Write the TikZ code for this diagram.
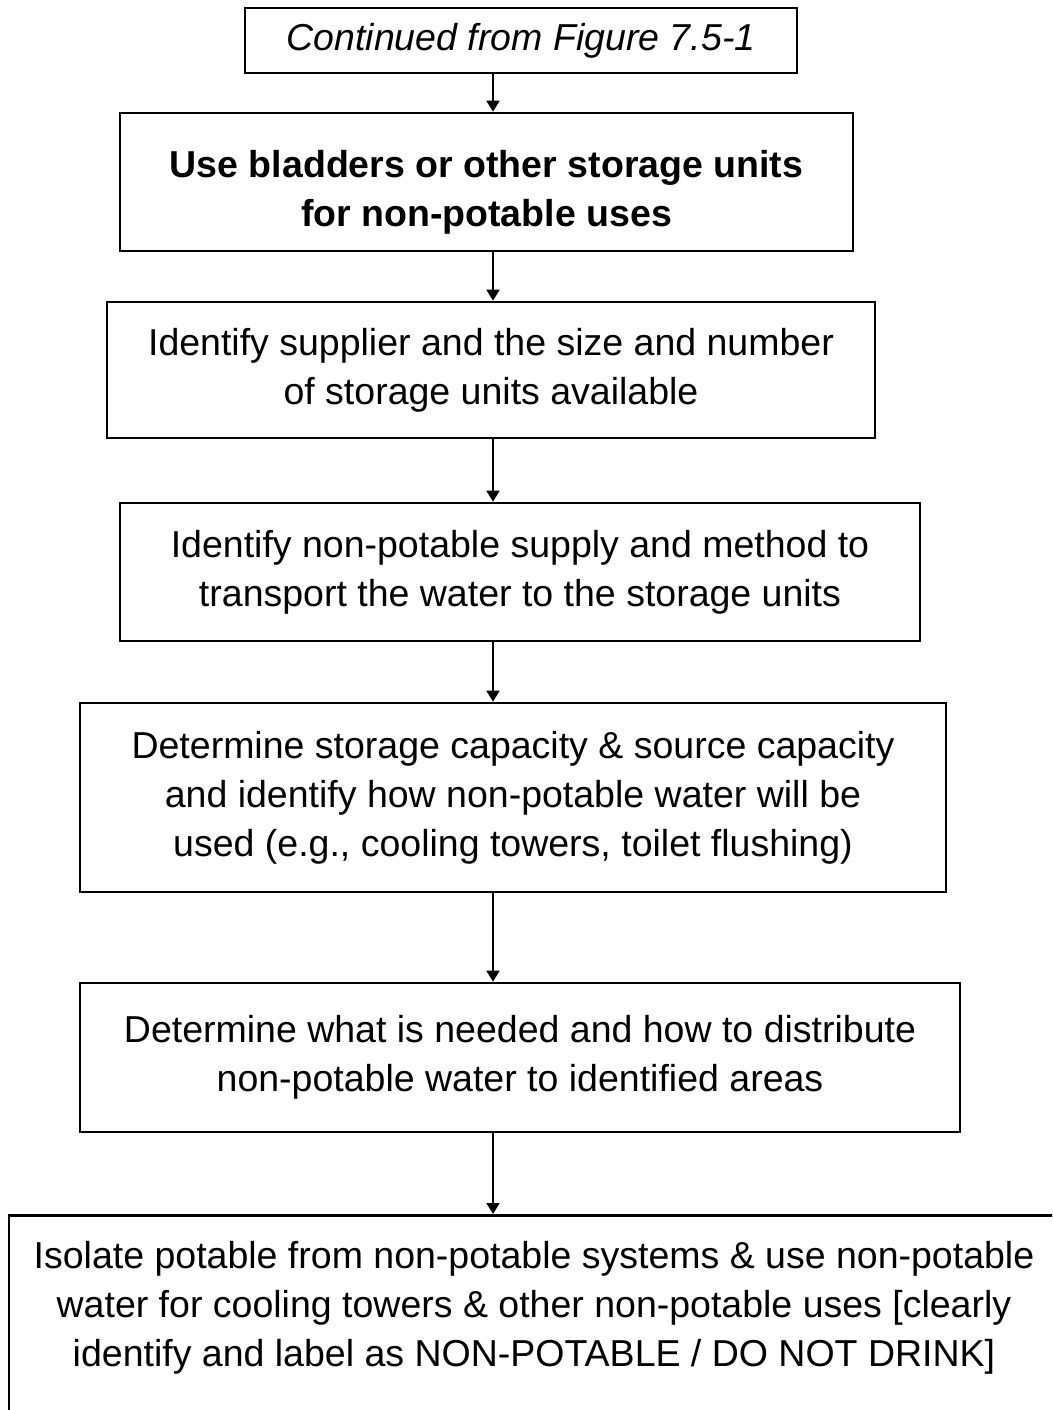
\documentclass[tikz,border=0pt]{standalone}
\usepackage{fontspec}
\setmainfont{Liberation Sans}
\usetikzlibrary{arrows.meta}
\tikzset{
	stepbox/.style={draw,rectangle,line width=2.6pt,align=center,inner sep=0pt,font=\fontsize{37.5}{49}\selectfont},
	flowarr/.style={line width=1.8pt,-{Triangle[width=13pt,length=11pt]}}
}
\begin{document}
\begin{tikzpicture}[x=1pt,y=-1pt]
	\useasboundingbox (0,0) rectangle (1052,1410);
	\clip (0,0) rectangle (1052,1410);
	\coordinate (spine) at (493,0);
	\node[stepbox,minimum width=552pt,minimum height=65pt] (b1) at (521,40.5) {\itshape Continued from Figure 7.5-1};
	\node[stepbox,minimum width=733pt,minimum height=138pt,text height=96pt] (b2) at (486.5,182) {\bfseries Use bladders or other storage units\\ \bfseries for non-potable uses};
	\node[stepbox,minimum width=768pt,minimum height=136pt] (b3) at (491,370) {Identify supplier and the size and number\\ of storage units available};
	\node[stepbox,minimum width=800pt,minimum height=138pt] (b4) at (520,572) {Identify non-potable supply and method to\\ transport the water to the storage units};
	\node[stepbox,minimum width=866pt,minimum height=189pt] (b5) at (513,797.5) {Determine storage capacity \& source capacity\\ and identify how non-potable water will be\\ used (e.g., cooling towers, toilet flushing)};
	\node[stepbox,minimum width=880pt,minimum height=149pt] (b6) at (520,1057.5) {Determine what is needed and how to distribute\\ non-potable water to identified areas};
	\node[stepbox,minimum width=1050pt,inner ysep=26pt,text depth=150pt,anchor=north] (b7) at (534,1214) {Isolate potable from non-potable systems \& use non-potable\\ water for cooling towers \& other non-potable uses [clearly\\ identify and label as NON-POTABLE / DO NOT DRINK]};
	\foreach \a/\b in {b1/b2,b2/b3,b3/b4,b4/b5,b5/b6,b6/b7}
		\draw[flowarr] (\a.south -| spine) -- (\b.north -| spine);
\end{tikzpicture}
\end{document}
